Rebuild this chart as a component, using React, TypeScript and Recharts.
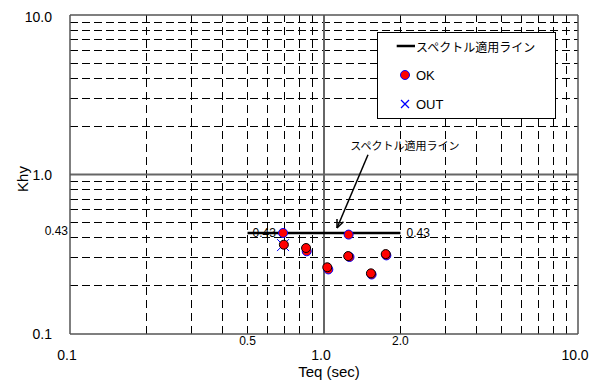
import { ScatterChart, Scatter, XAxis, YAxis, ReferenceLine, Legend } from 'recharts';

const FONT = '"Liberation Sans", Arial, sans-serif';
const JP_FONT = '"Noto Sans CJK JP", sans-serif';

// axis ticks (log scale)
const xTicks = [0.1, 0.5, 1, 2, 10];
const yTicks = [0.1, 0.43, 1, 10];
const xTickLabels: Record<number, string> = { 0.1: '0.1', 0.5: '0.5', 1: '1.0', 2: '2.0', 10: '10.0' };
const yTickLabels: Record<number, string> = { 0.1: '0.1', 0.43: '0.43', 1: '1.0', 10: '10.0' };
const minorGrid = [0.2, 0.3, 0.4, 0.5, 0.6, 0.7, 0.8, 0.9, 2, 3, 4, 5, 6, 7, 8, 9];

// points judged OK (red, blue edge)
const okPoints = [
  { x: 0.69, y: 0.43 },
  { x: 1.25, y: 0.42 },
  { x: 0.855, y: 0.33 },
  { x: 1.04, y: 0.254 },
  { x: 1.26, y: 0.304 },
  { x: 1.76, y: 0.311 },
  { x: 1.54, y: 0.236 },
];

// second set of points (red, black edge)
const calcPoints = [
  { x: 0.695, y: 0.363 },
  { x: 0.85, y: 0.346 },
  { x: 1.03, y: 0.262 },
  { x: 1.245, y: 0.308 },
  { x: 1.75, y: 0.317 },
  { x: 1.53, y: 0.24 },
];

const outPoints = [{ x: 0.69, y: 0.361 }];

// spectrum applicable line, Teq 0.5 - 2.0 at Khy 0.43
const spectrumLine = [
  { x: 0.5, y: 0.43 },
  { x: 2.0, y: 0.43 },
];
const spectrumValue = '0.43';

// annotation arrow
const arrowLine = [
  { x: 1.49, y: 1.33 },
  { x: 1.125, y: 0.462 },
];
const annotationText = 'スペクトル適用ライン';

const renderXTick = (props: any) => {
  const { x, y, payload } = props;
  const v = payload.value;
  const minor = v === 0.5 || v === 2;
  return (
    <text
      x={minor ? x : x - 3}
      y={minor ? y + 7 : y + 21}
      textAnchor="middle"
      dominantBaseline="central"
      fontSize={minor ? 12 : 14}
      fontFamily={FONT}
      fill="#000"
    >
      {xTickLabels[v]}
    </text>
  );
};

const renderYTick = (props: any) => {
  const { x, y, payload } = props;
  const v = payload.value;
  const minor = v === 0.43;
  return (
    <text
      x={minor ? x - 2 : x - 18}
      y={minor ? y - 2 : v === 10 ? y + 2 : y}
      textAnchor="end"
      dominantBaseline="central"
      fontSize={minor ? 12 : 14}
      fontFamily={FONT}
      fill="#000"
    >
      {yTickLabels[v]}
    </text>
  );
};

const OkDot = (props: any) => (
  <circle cx={props.cx} cy={props.cy} r={4.5} fill="#ff0000" stroke="#0000ff" strokeWidth={1} />
);
const CalcDot = (props: any) => (
  <circle cx={props.cx} cy={props.cy} r={4.5} fill="#ff0000" stroke="#000" strokeWidth={1} />
);
const OutMark = (props: any) => {
  const { cx, cy } = props;
  const s = 6;
  return (
    <g stroke="#0000ff" strokeWidth={1}>
      <line x1={cx - s} y1={cy - s} x2={cx + s} y2={cy + s} />
      <line x1={cx - s} y1={cy + s} x2={cx + s} y2={cy - s} />
    </g>
  );
};

const SpectrumShape = (props: any) => {
  const { x1, y1, x2, y2 } = props;
  return (
    <g>
      <line x1={x1} y1={y1} x2={x2} y2={y2} stroke="#000" strokeWidth={2.5} />
      <text x={x1 + 5} y={y1} dominantBaseline="central" fontSize={12} fontFamily={FONT} fill="#000">
        {spectrumValue}
      </text>
      <text x={x2 + 6} y={y2} dominantBaseline="central" fontSize={12} fontFamily={FONT} fill="#000">
        {spectrumValue}
      </text>
    </g>
  );
};

const ArrowShape = (props: any) => {
  const { x1, y1, x2, y2 } = props;
  const a = Math.atan2(y2 - y1, x2 - x1);
  const h = 9;
  const w = 0.4;
  return (
    <g>
      <line x1={x1} y1={y1} x2={x2} y2={y2} stroke="#000" strokeWidth={1.5} />
      <line x1={x2} y1={y2} x2={x2 - h * Math.cos(a - w)} y2={y2 - h * Math.sin(a - w)} stroke="#000" strokeWidth={1.5} />
      <line x1={x2} y1={y2} x2={x2 - h * Math.cos(a + w)} y2={y2 - h * Math.sin(a + w)} stroke="#000" strokeWidth={1.5} />
      <text x={x1 + 37} y={y1 - 10} textAnchor="middle" dominantBaseline="central" fontSize={11} fontFamily={JP_FONT} fill="#000">
        {annotationText}
      </text>
    </g>
  );
};

const renderLegend = () => (
  <div style={{ width: 179, height: 87, boxSizing: 'border-box', border: '1px solid #000', background: '#fff' }}>
    <svg width={177} height={85} style={{ display: 'block' }}>
      <line x1={18.7} y1={13} x2={37} y2={13} stroke="#000" strokeWidth={2.5} />
      <text x={38} y={13} dominantBaseline="central" fontSize={12} fontFamily={JP_FONT} fill="#000">
        {annotationText}
      </text>
      <circle cx={27} cy={42} r={4.5} fill="#ff0000" stroke="#0000ff" strokeWidth={1} />
      <text x={38} y={42} dominantBaseline="central" fontSize={13} fontFamily={FONT} fill="#000">
        OK
      </text>
      <g stroke="#0000ff" strokeWidth={1.2}>
        <line x1={23} y1={67} x2={31} y2={75} />
        <line x1={23} y1={75} x2={31} y2={67} />
      </g>
      <text x={38} y={71} dominantBaseline="central" fontSize={13} fontFamily={FONT} fill="#000">
        OUT
      </text>
    </svg>
  </div>
);

export default function App() {
  return (
    <div style={{ position: 'absolute', left: 0, top: 0, background: '#fff' }}>
      <ScatterChart width={595} height={384} margin={{ top: 15, right: 17, bottom: 0, left: 0 }}>
        <XAxis
          type="number"
          dataKey="x"
          scale="log"
          domain={[0.1, 10]}
          allowDataOverflow
          ticks={xTicks}
          interval={0}
          tick={renderXTick}
          tickLine={false}
          tickSize={0}
          tickMargin={0}
          height={50}
          axisLine={{ stroke: '#555', strokeWidth: 1.5 }}
          label={{
            content: (p: any) => (
              <text
                x={p.viewBox.x + p.viewBox.width / 2 + 5}
                y={p.viewBox.y + 37}
                textAnchor="middle"
                dominantBaseline="central"
                fontSize={15}
                fontFamily={FONT}
                fill="#000"
              >
                Teq (sec)
              </text>
            ),
          }}
        />
        <YAxis
          type="number"
          dataKey="y"
          scale="log"
          domain={[0.1, 10]}
          allowDataOverflow
          ticks={yTicks}
          interval={0}
          tick={renderYTick}
          tickLine={false}
          tickSize={0}
          tickMargin={0}
          width={70}
          axisLine={{ stroke: '#555', strokeWidth: 1.5 }}
          label={{
            content: (p: any) => {
              const cx = p.viewBox.x + 22;
              const cy = p.viewBox.y + p.viewBox.height / 2 + 4.5;
              return (
                <text
                  x={cx}
                  y={cy}
                  transform={`rotate(-90, ${cx}, ${cy})`}
                  textAnchor="middle"
                  dominantBaseline="central"
                  fontSize={15}
                  fontFamily={FONT}
                  fill="#000"
                >
                  Khy
                </text>
              );
            },
          }}
        />
        {minorGrid.map((v) => (
          <ReferenceLine key={`gx${v}`} x={v} stroke="#000" strokeWidth={1} strokeDasharray="8 5" shapeRendering="crispEdges" />
        ))}
        {minorGrid.map((v) => (
          <ReferenceLine key={`gy${v}`} y={v} stroke="#000" strokeWidth={1} strokeDasharray="8 4" shapeRendering="crispEdges" />
        ))}
        <ReferenceLine x={1} stroke="#666" strokeWidth={2} />
        <ReferenceLine y={1} stroke="#666" strokeWidth={2} />
        <ReferenceLine x={10} stroke="#555" strokeWidth={1.5} />
        <ReferenceLine y={10} stroke="#555" strokeWidth={1.5} />
        <ReferenceLine segment={spectrumLine} shape={SpectrumShape} />
        <ReferenceLine segment={arrowLine} shape={ArrowShape} ifOverflow="visible" />
        <Scatter name="OK" data={okPoints} shape={OkDot} isAnimationActive={false} />
        <Scatter name="OUT" data={outPoints} shape={OutMark} isAnimationActive={false} />
        <Scatter name="calc" data={calcPoints} shape={CalcDot} isAnimationActive={false} legendType="none" />
        <Legend
          content={renderLegend}
          layout="horizontal"
          verticalAlign="middle"
          align="center"
          wrapperStyle={{ left: 377, top: 32, width: 179, height: 87 }}
        />
      </ScatterChart>
    </div>
  );
}
